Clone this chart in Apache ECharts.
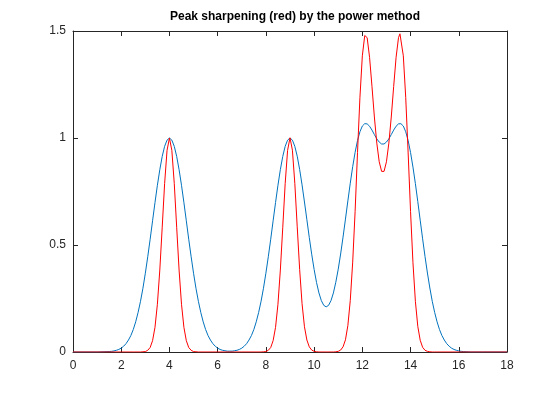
<!DOCTYPE html>
<html>
<head>
<meta charset="utf-8">
<script src="https://cdn.jsdelivr.net/npm/echarts@6/dist/echarts.min.js"></script>
<style>html,body{margin:0;padding:0;background:#fff;}#c{width:560px;height:396px;}</style>
</head>
<body>
<div id="c"></div>
<script>
const titleText = 'Peak sharpening (red) by the power method';
const xTickLabels = [0, 2, 4, 6, 8, 10, 12, 14, 16, 18];
const yTickLabels = [0, 0.5, 1, 1.5];

// original signal (blue)
const blueCurve = [
[0,0],[0.5,0],[1.0,0],[1.5,0.002],[1.6,0.003],[1.7,0.005],[1.8,0.008],[1.9,0.012],
[2.0,0.018],[2.1,0.027],[2.2,0.039],[2.3,0.056],[2.4,0.077],[2.5,0.105],[2.6,0.141],[2.7,0.185],[2.8,0.237],[2.9,0.298],
[3.0,0.368],[3.1,0.445],[3.2,0.527],[3.3,0.613],[3.4,0.698],[3.5,0.779],[3.6,0.852],[3.7,0.914],[3.8,0.961],[3.9,0.990],
[4.0,1.000],[4.1,0.990],[4.2,0.961],[4.3,0.914],[4.4,0.852],[4.5,0.779],[4.6,0.698],[4.7,0.613],[4.8,0.527],[4.9,0.445],
[5.0,0.368],[5.1,0.298],[5.2,0.237],[5.3,0.185],[5.4,0.141],[5.5,0.105],[5.6,0.077],[5.7,0.056],[5.8,0.039],[5.9,0.027],
[6.0,0.018],[6.1,0.012],[6.2,0.008],[6.3,0.006],[6.4,0.004],[6.5,0.004],[6.6,0.004],[6.7,0.006],[6.8,0.008],[6.9,0.012],
[7.0,0.018],[7.1,0.027],[7.2,0.039],[7.3,0.056],[7.4,0.077],[7.5,0.105],[7.6,0.141],[7.7,0.185],[7.8,0.237],[7.9,0.298],
[8.0,0.368],[8.1,0.445],[8.2,0.527],[8.3,0.613],[8.4,0.698],[8.5,0.779],[8.6,0.852],[8.7,0.914],[8.8,0.961],[8.9,0.990],
[9.0,1.000],[9.1,0.990],[9.2,0.961],[9.3,0.915],[9.4,0.853],[9.5,0.781],[9.6,0.701],[9.7,0.618],[9.8,0.535],[9.9,0.457],
[10.0,0.386],[10.1,0.325],[10.2,0.276],[10.3,0.240],[10.4,0.218],[10.5,0.211],[10.6,0.218],[10.7,0.240],[10.8,0.276],[10.9,0.326],
[11.0,0.387],[11.1,0.458],[11.2,0.537],[11.3,0.621],[11.4,0.706],[11.5,0.789],[11.6,0.866],[11.7,0.933],[11.8,0.988],[11.9,1.029],
[12.0,1.056],[12.1,1.067],[12.14,1.068],[12.2,1.066],[12.3,1.055],[12.4,1.037],[12.5,1.016],[12.6,0.996],[12.7,0.981],[12.8,0.972],[12.9,0.972],
[13.0,0.981],[13.1,0.996],[13.2,1.016],[13.3,1.037],[13.4,1.055],[13.5,1.066],[13.56,1.068],[13.6,1.067],[13.7,1.056],[13.8,1.029],[13.9,0.988],
[14.0,0.932],[14.1,0.864],[14.2,0.787],[14.3,0.703],[14.4,0.616],[14.5,0.529],[14.6,0.446],[14.7,0.369],[14.8,0.299],[14.9,0.237],
[15.0,0.185],[15.1,0.141],[15.2,0.105],[15.3,0.077],[15.4,0.056],[15.5,0.039],[15.6,0.027],[15.7,0.018],[15.8,0.012],[15.9,0.008],
[16.0,0.005],[16.1,0.003],[16.2,0.002],[16.3,0.001],[16.4,0.001],[16.5,0],[17.0,0],[17.5,0],[18.0,0]
];

// sharpened signal (red)
const redCurve = [
[0,0],[2.0,0],[2.5,0],[2.8,0],[2.9,0.001],
[3.0,0.002],[3.1,0.008],[3.2,0.021],[3.3,0.053],[3.4,0.115],[3.5,0.223],[3.6,0.383],[3.7,0.583],[3.8,0.787],[3.9,0.942],
[4.0,1.000],[4.1,0.942],[4.2,0.787],[4.3,0.583],[4.4,0.383],[4.5,0.223],[4.6,0.115],[4.7,0.053],[4.8,0.021],[4.9,0.008],
[5.0,0.002],[5.1,0.001],[5.2,0],[6.0,0],[7.0,0],[7.8,0],[7.9,0.001],
[8.0,0.002],[8.1,0.008],[8.2,0.021],[8.3,0.053],[8.4,0.115],[8.5,0.223],[8.6,0.383],[8.7,0.583],[8.8,0.787],[8.9,0.942],
[9.0,1.001],[9.1,0.943],[9.2,0.788],[9.3,0.585],[9.4,0.386],[9.5,0.226],[9.6,0.118],[9.7,0.056],[9.8,0.024],[9.9,0.009],
[10.0,0.003],[10.1,0.001],[10.2,0],[10.5,0],[10.8,0],[10.9,0.001],
[11.0,0.003],[11.1,0.009],[11.2,0.024],[11.3,0.057],[11.4,0.124],[11.5,0.241],[11.6,0.420],[11.7,0.656],[11.8,0.932],[11.9,1.189],
[12.0,1.384],[12.1,1.479],[12.14,1.487],[12.2,1.469],[12.3,1.377],[12.4,1.241],[12.5,1.098],[12.6,0.976],[12.7,0.889],[12.8,0.844],[12.9,0.844],
[13.0,0.889],[13.1,0.976],[13.2,1.098],[13.3,1.241],[13.4,1.377],[13.5,1.469],[13.56,1.487],[13.6,1.479],[13.7,1.384],[13.8,1.189],[13.9,0.930],
[14.0,0.656],[14.1,0.417],[14.2,0.237],[14.3,0.120],[14.4,0.055],[14.5,0.022],[14.6,0.008],[14.7,0.003],[14.8,0.001],[14.9,0],
[15.0,0],[16.0,0],[17.0,0],[18.0,0]
];

const axisColor = '#262626';
const fontFam = 'Liberation Sans, Arial, sans-serif';

function xAx(pos, show) {
  return {
    type: 'value', position: pos, min: 0, max: 18, interval: 2,
    axisLine: { show: true, onZero: false, lineStyle: { color: axisColor, width: 1 } },
    axisTick: { show: true, inside: true, length: 5, lineStyle: { color: axisColor } },
    axisLabel: { show: show, color: axisColor, fontSize: 12, fontFamily: fontFam, margin: 8,
      formatter: v => xTickLabels.includes(v) ? String(v) : '' },
    splitLine: { show: false }
  };
}
function yAx(pos, show) {
  return {
    type: 'value', position: pos, min: 0, max: 1.5, interval: 0.5,
    axisLine: { show: true, onZero: false, lineStyle: { color: axisColor, width: 1 } },
    axisTick: { show: true, inside: true, length: 5, lineStyle: { color: axisColor } },
    axisLabel: { show: show, color: axisColor, fontSize: 12, fontFamily: fontFam, margin: 7,
      formatter: v => yTickLabels.includes(v) ? String(v) : '' },
    splitLine: { show: false }
  };
}

const chart = echarts.init(document.getElementById('c'), null, { renderer: 'canvas' });
chart.setOption({
  animation: false,
  backgroundColor: '#ffffff',
  title: {
    text: titleText, left: 290, top: 6, textAlign: 'center',
    textStyle: { fontSize: 12, fontWeight: 'bold', color: '#000', fontFamily: fontFam }
  },
  grid: { left: 73, right: 53, top: 31, bottom: 44, containLabel: false },
  xAxis: [xAx('bottom', true), xAx('top', false)],
  yAxis: [yAx('left', true), yAx('right', false)],
  series: [
    { type: 'line', data: blueCurve, xAxisIndex: 0, yAxisIndex: 0, showSymbol: false,
      lineStyle: { color: '#0072BD', width: 1 }, itemStyle: { color: '#0072BD' }, z: 2 },
    { type: 'line', data: redCurve, xAxisIndex: 0, yAxisIndex: 0, showSymbol: false,
      lineStyle: { color: '#FF0000', width: 1 }, itemStyle: { color: '#FF0000' }, z: 3 }
  ]
});
</script>
</body>
</html>
